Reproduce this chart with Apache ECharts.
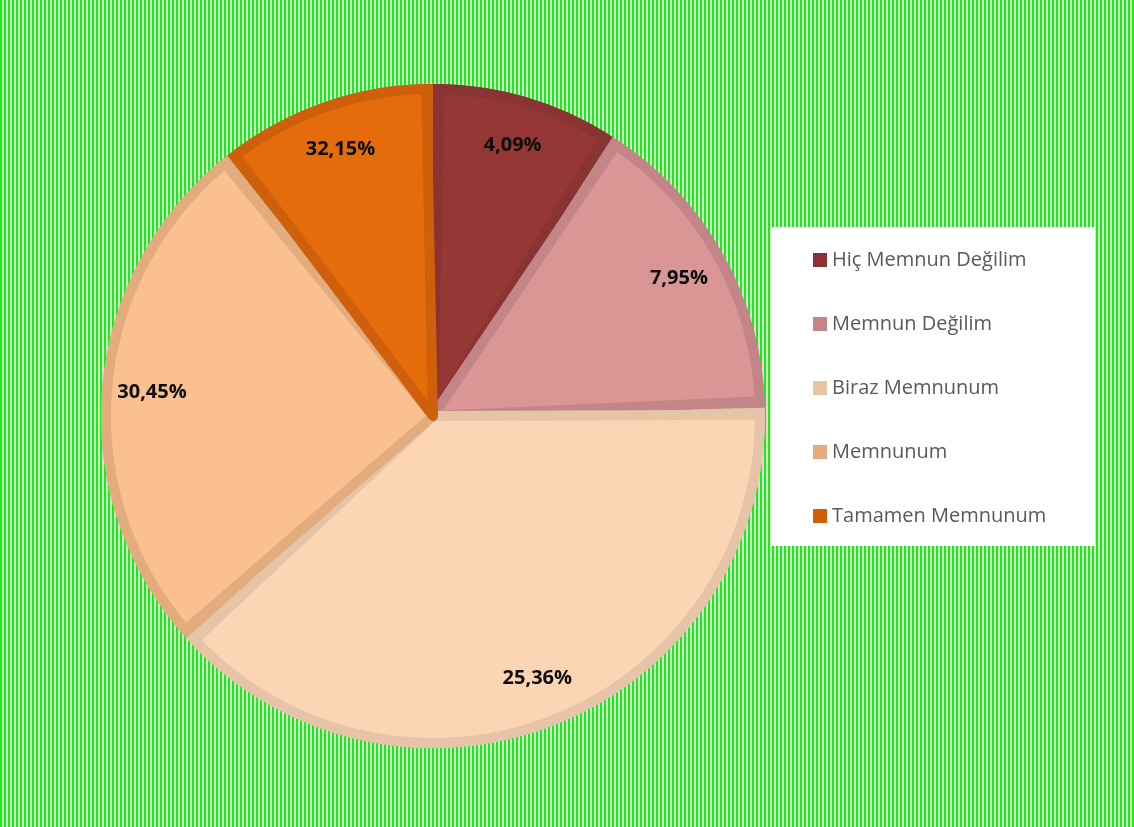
<!DOCTYPE html>
<html>
<head>
<meta charset="utf-8">
<script src="https://cdn.jsdelivr.net/npm/echarts@6/dist/echarts.min.js"></script>
<style>
  html, body { margin: 0; padding: 0; }
  body {
    width: 1134px; height: 827px; overflow: hidden;
    background: repeating-linear-gradient(90deg, #14f014 0px, #14f014 2px, #d9ddd2 2px, #d9ddd2 4px);
  }
  #chart { width: 1134px; height: 827px; }
</style>
</head>
<body>
<div id="chart"></div>
<script>
// Categories (legend order)
const categories = ['Hiç Memnun Değilim', 'Memnun Değilim', 'Biraz Memnunum', 'Memnunum', 'Tamamen Memnunum'];
// Slice sizes (share of the circle, %)
const sliceValues = [9.11, 15.50, 38.72, 26.03, 10.64];
// Percent labels printed on the slices
const sliceLabels = ['4,09%', '7,95%', '25,36%', '30,45%', '32,15%'];
// Colours
const fillColors = ['#953735', '#d99694', '#fcd5b5', '#fac090', '#e46c0a'];
const edgeColors = ['#8a3333', '#c38587', '#e5c4a8', '#e3ac7f', '#cf5f0b'];

const chart = echarts.init(document.getElementById('chart'), null, { renderer: 'canvas' });

const center = [433, 416];

const edgeData = categories.map((n, i) => ({ name: n, value: sliceValues[i], itemStyle: { color: edgeColors[i] } }));
const fillData = categories.map((n, i) => ({ name: n, value: sliceValues[i], itemStyle: { color: fillColors[i], borderColor: edgeColors[i] } }));
const labelData = categories.map((n, i) => ({ name: n, value: sliceValues[i] }));

chart.setOption({
  backgroundColor: 'transparent',
  animation: false,
  graphic: [{
    type: 'rect', z: 0, silent: true,
    shape: { x: 771, y: 227, width: 324, height: 319 },
    style: { fill: '#ffffff' }
  }],
  legend: {
    orient: 'vertical',
    left: 771, top: 227,
    padding: [21, 20, 18, 42],
    itemWidth: 14, itemHeight: 14,
    itemGap: 40,
    icon: 'rect',
    itemStyle: { borderWidth: 0 },
    textStyle: { fontFamily: 'Open Sans', fontSize: 20, color: '#595959', lineHeight: 24 },
    data: categories.map((n, i) => ({ name: n, itemStyle: { color: edgeColors[i], borderWidth: 0 } })),
    selectedMode: false
  },
  series: [
    {
      type: 'pie', z: 1, silent: true,
      center: center, radius: [0, 332],
      startAngle: 90, clockwise: true,
      label: { show: false }, labelLine: { show: false },
      data: edgeData
    },
    {
      type: 'pie', z: 2, silent: true,
      center: center, radius: [0, 327],
      startAngle: 90, clockwise: true,
      padAngle: 2.4,
      itemStyle: { borderWidth: 10, borderJoin: 'round' },
      label: { show: false }, labelLine: { show: false },
      data: fillData
    },
    {
      type: 'pie', z: 3, silent: true,
      center: center, radius: [226, 332],
      startAngle: 90, clockwise: true,
      itemStyle: { color: 'rgba(0,0,0,0)' },
      labelLine: { show: false },
      label: {
        show: true, position: 'inside',
        formatter: p => sliceLabels[p.dataIndex],
        fontFamily: 'Open Sans', fontWeight: 'bold', fontSize: 20, color: '#0d0d0d'
      },
      data: labelData
    }
  ]
});
</script>
</body>
</html>
